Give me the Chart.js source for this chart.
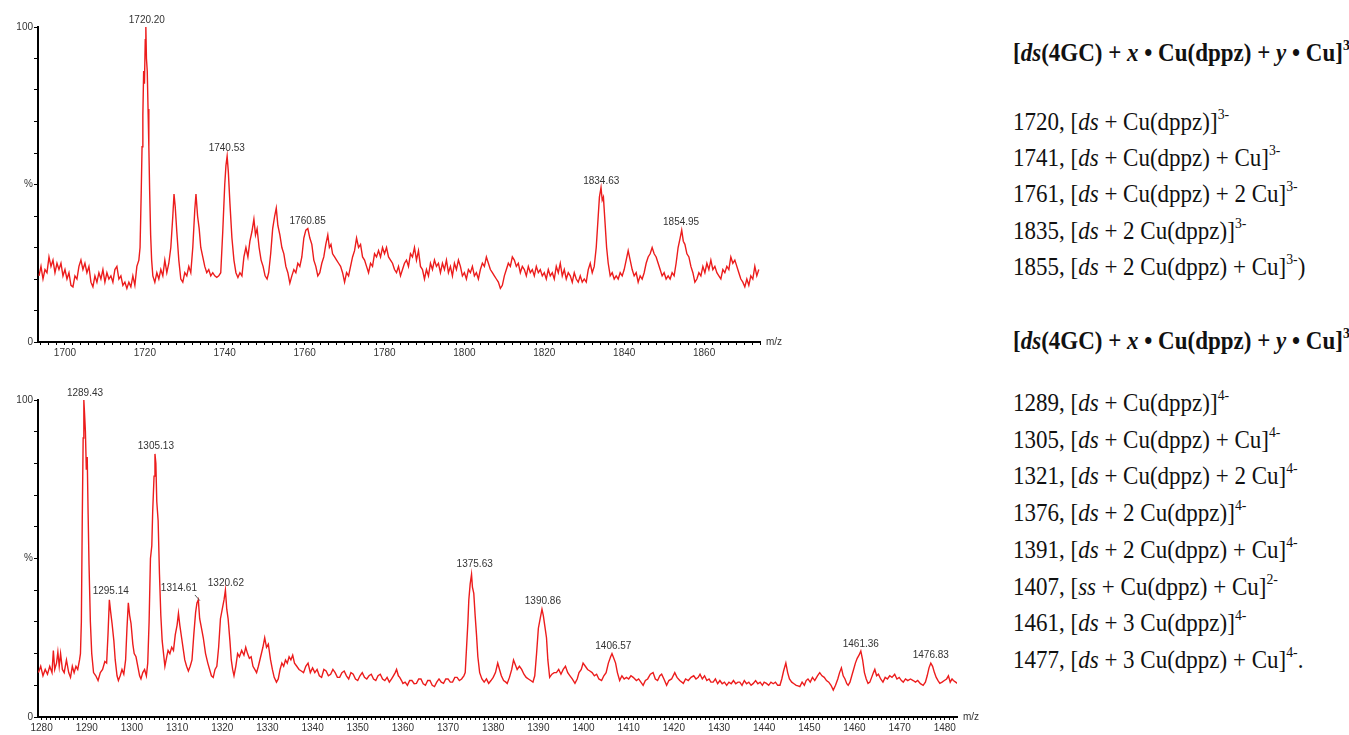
<!DOCTYPE html>
<html>
<head>
<meta charset="utf-8">
<script src="https://cdn.jsdelivr.net/npm/chart.js@4.4.1/dist/chart.umd.min.js"></script>
<style>
html, body { margin: 0; padding: 0; background: #fff; }
body { width: 1349px; height: 735px; overflow: hidden; position: relative; }
canvas { position: absolute; left: 0; }
#topo { top: 0; }
#baixo { top: 360px; }
.linha {
    position: absolute; left: 1013px;
    font-family: 'Liberation Serif', 'Times New Roman', serif;
    font-size: 23px; line-height: 26px; white-space: nowrap; color: #111;
    transform: scaleY(1.08); transform-origin: 0 20px;
}
.linha sup { font-size: 0.6em; line-height: 0; vertical-align: 0.75em; }
.titulo { font-weight: bold; }
</style>
</head>
<body>
<canvas id="topo" width="800" height="360"></canvas>
<canvas id="baixo" width="1000" height="375"></canvas>

<div class="linha titulo" style="top:41px">[<i>ds</i>(4GC) + <i>x</i> • Cu(dppz) + <i>y</i> • Cu]<sup>3-</sup></div>
<div class="linha" style="top:110px">1720, [<i>ds</i> + Cu(dppz)]<sup>3-</sup></div>
<div class="linha" style="top:146px">1741, [<i>ds</i> + Cu(dppz) + Cu]<sup>3-</sup></div>
<div class="linha" style="top:182px">1761, [<i>ds</i> + Cu(dppz) + 2 Cu]<sup>3-</sup></div>
<div class="linha" style="top:219px">1835, [<i>ds</i> + 2 Cu(dppz)]<sup>3-</sup></div>
<div class="linha" style="top:255px">1855, [<i>ds</i> + 2 Cu(dppz) + Cu]<sup>3-</sup>)</div>
<div class="linha titulo" style="top:329px">[<i>ds</i>(4GC) + <i>x</i> • Cu(dppz) + <i>y</i> • Cu]<sup>3-</sup></div>
<div class="linha" style="top:391px">1289, [<i>ds</i> + Cu(dppz)]<sup>4-</sup></div>
<div class="linha" style="top:428px">1305, [<i>ds</i> + Cu(dppz) + Cu]<sup>4-</sup></div>
<div class="linha" style="top:464px">1321, [<i>ds</i> + Cu(dppz) + 2 Cu]<sup>4-</sup></div>
<div class="linha" style="top:501px">1376, [<i>ds</i> + 2 Cu(dppz)]<sup>4-</sup></div>
<div class="linha" style="top:538px">1391, [<i>ds</i> + 2 Cu(dppz) + Cu]<sup>4-</sup></div>
<div class="linha" style="top:575px">1407, [<i>ss</i> + Cu(dppz) + Cu]<sup>2-</sup></div>
<div class="linha" style="top:611px">1461, [<i>ds</i> + 3 Cu(dppz)]<sup>4-</sup></div>
<div class="linha" style="top:648px">1477, [<i>ds</i> + 3 Cu(dppz) + Cu]<sup>4-</sup>.</div>

<script>
// espectro de cima, [m/z, %]
const topSpectrum = [
    [1693.5, 21], [1694, 24], [1694.5, 20], [1695, 23], [1695.5, 22], [1696, 27], [1696.5, 24], [1697, 26],
    [1697.5, 22], [1698, 25], [1698.5, 23], [1699, 25], [1699.5, 21], [1700, 23], [1700.5, 20], [1701, 22],
    [1701.5, 18], [1702, 17.5], [1702.5, 21], [1703, 20], [1703.5, 24], [1704, 26], [1704.5, 23], [1705, 25],
    [1705.5, 22], [1706, 24], [1706.5, 19], [1707, 17.5], [1707.5, 21], [1708, 19], [1708.5, 22], [1709, 20],
    [1709.5, 23], [1710, 19], [1710.5, 22], [1711, 20], [1711.5, 21], [1712, 19], [1712.5, 23], [1713, 24],
    [1713.5, 20], [1714, 21], [1714.5, 18], [1715, 19], [1715.5, 17], [1716, 19], [1716.5, 17.5], [1717, 21],
    [1717.5, 18], [1718, 24], [1718.5, 26], [1718.8, 30], [1719.1, 48], [1719.3, 62], [1719.5, 72], [1719.7, 86],
    [1719.9, 82], [1720.1, 96], [1720.25, 100], [1720.4, 90], [1720.6, 86], [1720.8, 74], [1721, 62], [1721.2, 48],
    [1721.45, 34], [1721.7, 26], [1722, 21],
    [1722.5, 19], [1723, 22], [1723.5, 20], [1724, 23], [1724.5, 21], [1725, 26], [1725.5, 22], [1726, 25],
    [1726.5, 30], [1727, 40], [1727.3, 47], [1727.6, 43], [1728, 35], [1728.5, 26], [1729, 20], [1729.5, 19],
    [1730, 22], [1730.5, 21], [1731, 24], [1731.5, 22], [1732, 30], [1732.5, 42], [1732.8, 47], [1733.2, 40],
    [1733.6, 36], [1734, 30], [1734.5, 27], [1735, 24], [1735.5, 22], [1736, 23], [1736.5, 21], [1737, 22],
    [1737.5, 21], [1738, 20.5], [1738.5, 21], [1739, 22], [1739.5, 35], [1740, 50], [1740.3, 56], [1740.6, 59],
    [1740.9, 54], [1741.3, 44], [1741.8, 33], [1742.3, 26], [1742.8, 22], [1743.3, 20.5], [1743.8, 22], [1744.3, 21],
    [1744.8, 27], [1745.3, 30], [1745.8, 27], [1746.3, 32], [1746.8, 35], [1747.3, 39], [1747.7, 34], [1748.1, 36],
    [1748.6, 30], [1749.1, 26], [1749.6, 24], [1750.1, 21], [1750.6, 20], [1751, 22], [1751.5, 28], [1752, 36],
    [1752.5, 40], [1752.9, 42.5], [1753.3, 37], [1753.8, 34], [1754.3, 30], [1754.8, 28], [1755.3, 24], [1755.8, 22],
    [1756.3, 18.7], [1756.8, 21], [1757.3, 23], [1757.8, 22], [1758.3, 25], [1758.8, 24], [1759.3, 27], [1759.8, 33],
    [1760.3, 35.5], [1760.8, 36], [1761.3, 33], [1761.8, 31], [1762.3, 26], [1762.8, 24], [1763.3, 21], [1763.8, 22],
    [1764.3, 25], [1764.8, 27], [1765.3, 31], [1765.8, 34], [1766.2, 30], [1766.6, 31], [1767, 28], [1767.5, 27],
    [1768, 26], [1768.5, 25], [1769, 24], [1769.5, 22], [1770, 19], [1770.5, 22], [1771, 21], [1771.5, 24],
    [1772, 27], [1772.5, 29], [1773, 33], [1773.5, 30], [1774, 31], [1774.5, 27], [1775, 26], [1775.5, 24],
    [1776, 22], [1776.5, 25], [1777, 24], [1777.5, 28], [1778, 27], [1778.5, 29], [1779, 27], [1779.5, 30],
    [1780, 28], [1780.5, 30], [1781, 27], [1781.5, 26], [1782, 25], [1782.5, 23], [1783, 22], [1783.5, 24],
    [1784, 21], [1784.5, 23], [1785, 25], [1785.5, 26], [1786, 24], [1786.5, 28], [1787, 27], [1787.5, 30],
    [1788, 26], [1788.5, 29], [1789, 24], [1789.5, 23], [1790, 20], [1790.5, 23], [1791, 21], [1791.5, 25],
    [1792, 23], [1792.5, 26], [1793, 24], [1793.5, 25], [1794, 22], [1794.5, 25], [1795, 23], [1795.5, 26],
    [1796, 22], [1796.5, 24], [1797, 21], [1797.5, 25], [1798, 23], [1798.5, 26], [1799, 24], [1799.5, 21],
    [1800, 22], [1800.5, 20], [1801, 23], [1801.5, 22], [1802, 24], [1802.5, 21], [1803, 22], [1803.5, 20],
    [1804, 23], [1804.5, 25], [1805, 24], [1805.5, 27], [1806, 25], [1806.5, 23], [1807, 22], [1807.5, 21],
    [1808, 20], [1808.5, 19], [1809, 17], [1809.5, 18], [1810, 21], [1810.5, 23], [1811, 25], [1811.5, 24],
    [1812, 27], [1812.5, 26], [1813, 24], [1813.5, 25], [1814, 22], [1814.5, 24], [1815, 23], [1815.5, 21],
    [1816, 24], [1816.5, 22], [1817, 23], [1817.5, 21], [1818, 24], [1818.5, 22], [1819, 23], [1819.5, 21],
    [1820, 22], [1820.5, 20], [1821, 23], [1821.5, 21], [1822, 22], [1822.5, 20], [1823, 24], [1823.5, 22],
    [1824, 25], [1824.5, 21], [1825, 23], [1825.5, 20], [1826, 22], [1826.5, 21], [1827, 19], [1827.5, 22],
    [1828, 20], [1828.5, 19], [1829, 21], [1829.5, 19], [1830, 20], [1830.5, 19], [1831, 23], [1831.5, 25],
    [1832, 22], [1832.5, 24], [1833, 30], [1833.5, 40], [1833.8, 46], [1834.2, 49], [1834.5, 45], [1834.8, 46],
    [1835.2, 38], [1835.6, 30], [1836, 25], [1836.5, 21], [1837, 22], [1837.5, 20], [1838, 21], [1838.5, 20],
    [1839, 22], [1839.5, 21], [1840, 23], [1840.5, 26], [1841, 29], [1841.5, 26], [1842, 23], [1842.5, 21],
    [1843, 22], [1843.5, 19], [1844, 21], [1844.5, 20], [1845, 22], [1845.5, 25], [1846, 27], [1846.5, 28],
    [1847, 30], [1847.5, 28], [1848, 27], [1848.5, 25], [1849, 23], [1849.5, 21], [1850, 22], [1850.5, 20],
    [1851, 21], [1851.5, 20], [1852, 22], [1852.5, 21], [1853, 25], [1853.5, 30], [1854, 33], [1854.4, 35.5],
    [1854.8, 32], [1855.2, 31], [1855.7, 28], [1856.2, 27], [1856.7, 24], [1857.2, 22], [1857.7, 19], [1858.2, 20],
    [1858.7, 22], [1859.2, 21], [1859.7, 24], [1860.2, 22], [1860.7, 25], [1861.2, 23], [1861.7, 26], [1862.2, 23],
    [1862.7, 24], [1863.2, 22], [1863.7, 21], [1864.2, 20], [1864.7, 23], [1865.2, 22], [1865.7, 24], [1866.2, 23],
    [1866.7, 27], [1867.2, 25], [1867.7, 26], [1868.2, 24], [1868.7, 22], [1869.2, 20], [1869.7, 19], [1870.2, 17.5],
    [1870.7, 20], [1871.2, 18], [1871.7, 21], [1872.2, 20], [1872.7, 24], [1873.2, 21], [1873.7, 23]
];

// espectro de baixo, [m/z, %]
const bottomSpectrum = [
    [1279.3, 14], [1279.8, 16], [1280.3, 13], [1280.8, 15], [1281.3, 13.5], [1281.8, 16], [1282.3, 14], [1282.6, 21],
    [1282.9, 15], [1283.3, 17], [1283.6, 20.5], [1283.9, 16], [1284.2, 20], [1284.6, 15], [1285, 14], [1285.5, 18],
    [1286, 14], [1286.4, 12.5], [1286.8, 16], [1287.2, 14], [1287.6, 16], [1288, 15], [1288.4, 18], [1288.6, 20],
    [1288.8, 30], [1289, 62], [1289.2, 88], [1289.35, 100], [1289.5, 96], [1289.7, 90], [1289.9, 78], [1290.1, 82],
    [1290.3, 64], [1290.5, 48], [1290.8, 30], [1291.1, 20], [1291.5, 14], [1292, 13], [1292.5, 11.5], [1293, 14], [1293.5, 15],
    [1294, 17.5], [1294.4, 17], [1294.7, 26], [1295, 37], [1295.3, 33], [1295.6, 29.5], [1296, 24], [1296.3, 18],
    [1296.7, 13], [1297, 11.5], [1297.4, 13], [1297.8, 15], [1298.2, 13.5], [1298.6, 18], [1298.9, 28], [1299.2, 36],
    [1299.5, 32], [1299.8, 29.5], [1300.2, 23], [1300.5, 20], [1300.9, 19], [1301.3, 16], [1301.7, 13], [1302, 12],
    [1302.4, 14], [1302.8, 15], [1303.2, 13], [1303.5, 17], [1303.8, 30], [1304.1, 50], [1304.4, 54], [1304.6, 65],
    [1304.9, 76], [1305.1, 83], [1305.3, 80], [1305.5, 68], [1305.8, 62], [1306.1, 45], [1306.4, 32], [1306.7, 24],
    [1307, 20], [1307.3, 16], [1307.7, 19], [1308, 21], [1308.4, 20], [1308.8, 22], [1309.2, 21], [1309.6, 26],
    [1310, 29], [1310.3, 32.7], [1310.6, 29], [1311, 25], [1311.4, 21], [1311.7, 18], [1312.1, 16], [1312.5, 14.5],
    [1312.9, 16], [1313.3, 18], [1313.7, 26], [1314.1, 33], [1314.4, 36], [1314.7, 37], [1315, 31], [1315.4, 28],
    [1315.8, 25], [1316.3, 20], [1316.8, 17], [1317.2, 15], [1317.6, 13], [1318, 12.5], [1318.4, 15], [1318.8, 16],
    [1319.2, 22], [1319.6, 31], [1320, 34], [1320.4, 37], [1320.7, 40], [1321, 34], [1321.3, 31], [1321.7, 24],
    [1322, 18], [1322.3, 15], [1322.6, 13], [1323, 16], [1323.4, 20], [1323.8, 19], [1324.3, 21], [1324.8, 19.5],
    [1325.2, 22], [1325.6, 20], [1326, 18.5], [1326.4, 19], [1326.8, 16], [1327.2, 15], [1327.6, 14], [1328, 16],
    [1328.5, 19], [1329, 22], [1329.4, 25], [1329.8, 22], [1330.2, 23], [1330.7, 18], [1331.1, 15], [1331.5, 12.5],
    [1332, 11], [1332.4, 12], [1332.8, 15], [1333.2, 17], [1333.6, 16], [1334, 18], [1334.4, 17], [1334.8, 19],
    [1335.2, 18], [1335.6, 19.5], [1336, 17], [1336.5, 16], [1337, 15], [1337.5, 14.5], [1338, 14], [1338.5, 16],
    [1339, 17], [1339.5, 14], [1340, 15.5], [1340.5, 14], [1341, 15], [1341.5, 13], [1342, 12.5], [1342.5, 15],
    [1343, 14.5], [1343.5, 13], [1344, 13.5], [1344.5, 15], [1345, 14], [1345.5, 12.5], [1346, 12.5], [1346.5, 14],
    [1347, 14.5], [1347.5, 13], [1348, 12], [1348.5, 14], [1349, 13.5], [1349.5, 12], [1350, 11.5], [1350.5, 13],
    [1351, 14], [1351.5, 12.5], [1352, 12], [1352.5, 13], [1353, 13.5], [1353.5, 12], [1354, 11.5], [1354.5, 13],
    [1355, 13.5], [1355.5, 12], [1356, 11.5], [1356.5, 12.5], [1357, 11], [1357.5, 12], [1357.9, 13], [1358.3, 14],
    [1358.6, 15], [1359, 13], [1359.3, 12.5], [1359.7, 11.5], [1360, 10.6], [1360.5, 11], [1361, 10], [1361.5, 11.5],
    [1362, 11.5], [1362.5, 10.5], [1363, 10.6], [1363.5, 12], [1364, 12], [1364.5, 10.5], [1365, 10], [1365.5, 11.5],
    [1366, 11.5], [1366.5, 10], [1367, 9.6], [1367.5, 11], [1368, 12], [1368.5, 11], [1369, 10.6], [1369.5, 12],
    [1370, 12], [1370.5, 11], [1371, 11], [1371.5, 12.5], [1372, 12.5], [1372.5, 11.5], [1373, 12], [1373.5, 13],
    [1373.8, 14], [1374.1, 22], [1374.4, 30], [1374.6, 37], [1374.9, 42], [1375.2, 45], [1375.4, 41], [1375.7, 39],
    [1376, 32], [1376.3, 26], [1376.6, 19], [1377, 14], [1377.5, 12], [1378, 11], [1378.5, 12], [1379, 10.6],
    [1379.5, 11.5], [1380, 12.5], [1380.5, 14], [1381, 17], [1381.4, 15], [1381.8, 13], [1382.3, 11.5], [1382.8, 11],
    [1383.1, 10.6], [1383.6, 12.5], [1384.1, 15], [1384.5, 18], [1384.9, 16.5], [1385.3, 15], [1385.8, 16], [1386.3, 15],
    [1386.8, 13.5], [1387.3, 12.5], [1387.8, 12], [1388.3, 11.5], [1388.8, 11], [1389.2, 13], [1389.6, 20], [1390, 28],
    [1390.4, 31], [1390.8, 34], [1391.1, 32], [1391.4, 29], [1391.8, 25], [1392.1, 18], [1392.5, 12.5], [1393, 13.5],
    [1393.5, 14], [1394, 14], [1394.5, 15], [1395, 13.5], [1395.5, 15], [1396, 16], [1396.5, 14], [1397, 13],
    [1397.5, 12], [1398.1, 10.6], [1398.6, 12], [1399, 14], [1399.5, 15], [1399.9, 17], [1400.4, 16], [1400.9, 15],
    [1401.4, 14.5], [1401.9, 14], [1402.4, 13], [1402.9, 13.5], [1403.4, 12], [1404, 11.5], [1404.5, 13], [1405, 14],
    [1405.5, 17], [1406, 19], [1406.3, 20], [1406.7, 18.5], [1407.1, 17], [1407.5, 14], [1408, 11.5], [1408.5, 13],
    [1409, 12], [1409.5, 12.5], [1410, 12], [1410.5, 13], [1411, 12.5], [1411.7, 11.5], [1412.2, 12], [1412.7, 11],
    [1413.2, 10], [1413.7, 11.5], [1414.2, 12], [1414.8, 13.5], [1415.4, 14], [1415.9, 12], [1416.4, 11.5], [1416.9, 13],
    [1417.3, 13.5], [1417.8, 12], [1418.4, 10], [1418.9, 11.5], [1419.5, 12], [1420.2, 14], [1420.7, 12.5], [1421.3, 11.5],
    [1422.1, 10.6], [1422.6, 12], [1423.2, 11.5], [1423.8, 12.5], [1424.4, 13], [1424.9, 12], [1425.4, 12.5], [1425.8, 13.5],
    [1426.3, 12], [1426.8, 13], [1427.3, 11.5], [1427.8, 12], [1428.2, 11], [1428.7, 11], [1429.2, 12], [1429.7, 10.5],
    [1430.2, 11.5], [1430.7, 10.5], [1431.2, 11], [1431.7, 10], [1432.2, 11], [1432.7, 10.5], [1433.2, 11.5], [1433.7, 10.5],
    [1434.2, 11], [1434.6, 11], [1435.1, 10], [1435.6, 11.5], [1436.1, 10.5], [1436.6, 11], [1437.1, 10], [1437.6, 10.6],
    [1438.1, 11.5], [1438.6, 10.5], [1439.1, 11], [1439.6, 10], [1440, 11], [1440.5, 10.6], [1441, 10], [1441.5, 11],
    [1442, 10.5], [1442.5, 11], [1443, 10], [1443.5, 10], [1443.9, 12], [1444.3, 14.5], [1444.8, 17], [1445.2, 14],
    [1445.6, 12], [1446.1, 11], [1446.6, 10.5], [1447.1, 10], [1447.5, 9.8], [1447.9, 9.6], [1448.4, 11], [1448.9, 10],
    [1449.3, 11.5], [1449.7, 12], [1450.2, 11], [1450.7, 12.5], [1451.2, 11.5], [1451.8, 13], [1452.3, 14], [1452.8, 13],
    [1453.3, 12.5], [1453.8, 11.5], [1454.3, 11], [1454.8, 10], [1455.3, 8.5], [1455.8, 10], [1456.3, 12], [1456.7, 14],
    [1457.1, 15.5], [1457.5, 13], [1457.9, 12], [1458.3, 10.5], [1458.6, 10], [1459, 11], [1459.4, 13], [1459.8, 15],
    [1460.2, 17], [1460.6, 18.5], [1461, 19.5], [1461.4, 20.8], [1461.8, 18], [1462.2, 14], [1462.6, 12], [1463, 10.6],
    [1463.4, 11], [1463.8, 12.5], [1464.2, 14], [1464.5, 15], [1464.9, 13], [1465.3, 13.5], [1465.8, 12], [1466.3, 11],
    [1466.8, 12.5], [1467.3, 12], [1467.8, 13], [1468.3, 12.5], [1468.9, 13.5], [1469.4, 12], [1469.9, 12.5], [1470.4, 11.5],
    [1470.8, 11], [1471.3, 12], [1471.8, 11.5], [1472.4, 12], [1473, 11.5], [1473.5, 11], [1474, 11.5], [1474.6, 10.5],
    [1475.2, 10], [1475.7, 11], [1476.1, 13], [1476.5, 15.5], [1476.9, 17], [1477.3, 16], [1477.7, 14], [1478.1, 12.5],
    [1478.5, 11.5], [1478.9, 10.6], [1479.4, 11], [1479.9, 11.5], [1480.4, 12], [1480.8, 13], [1481.2, 11], [1481.6, 12],
    [1481.9, 11.5], [1482.4, 11], [1482.8, 10.6]
];

// rotulos dos picos: texto, m/z e % do centro do texto
const topPeakText = ['1720.20', '1740.53', '1760.85', '1834.63', '1854.95'];
const topPeakMz = [1720.5, 1740.5, 1760.75, 1834.25, 1854.25];
const topPeakInt = [102.2, 61.6, 38.4, 51.1, 38.1];

const bottomPeakText = ['1289.43', '1295.14', '1305.13', '1314.61', '1320.62', '1375.63', '1390.86', '1406.57', '1461.36', '1476.83'];
const bottomPeakMz = [1289.6, 1295.3, 1305.3, 1310.4, 1320.8, 1375.9, 1391, 1406.6, 1461.4, 1476.9];
const bottomPeakInt = [102.2, 39.7, 85.5, 40.7, 42.3, 48.3, 36.6, 22.4, 23, 19.6];
const bottomLeader = [[1313.95, 38.5], [1315.05, 36.7]];

// eixos
const topRange = [1693.25, 1874];
const bottomRange = [1279.2, 1482.7];
const yTickText = { 0: '0', 50: '%', 100: '100' };

Chart.defaults.font.family = 'Arial, "Liberation Sans", sans-serif';
Chart.defaults.font.size = 10;
Chart.defaults.color = '#333';

const rotulosPicos = {
    id: 'rotulosPicos',
    afterDatasetsDraw(chart, args, opts) {
        const { ctx, scales: { x, y }, chartArea } = chart;
        ctx.save();
        ctx.font = '10px Arial, "Liberation Sans", sans-serif';
        ctx.fillStyle = '#333';
        ctx.textAlign = 'center';
        ctx.textBaseline = 'middle';
        opts.texts.forEach((t, i) => {
            ctx.fillText(t, x.getPixelForValue(opts.mz[i]), y.getPixelForValue(opts.ints[i]));
        });
        if (opts.leader) {
            ctx.strokeStyle = '#555';
            ctx.lineWidth = 1;
            ctx.beginPath();
            ctx.moveTo(x.getPixelForValue(opts.leader[0][0]), y.getPixelForValue(opts.leader[0][1]));
            ctx.lineTo(x.getPixelForValue(opts.leader[1][0]), y.getPixelForValue(opts.leader[1][1]));
            ctx.stroke();
        }
        ctx.textAlign = 'left';
        ctx.fillText('m/z', chartArea.right + 6, chartArea.bottom);
        ctx.restore();
    }
};

function criarGrafico(id, spectrum, range, minorStep, labelStep, peaks, padTop, padRight) {
    return new Chart(document.getElementById(id), {
        type: 'line',
        data: {
            datasets: [{
                data: spectrum.map(p => ({ x: p[0], y: p[1] })),
                borderColor: '#ec1c1c',
                borderWidth: 1.4,
                pointRadius: 0,
                tension: 0
            }]
        },
        plugins: [rotulosPicos],
        options: {
            responsive: false,
            animation: false,
            devicePixelRatio: 1,
            layout: { padding: { top: padTop, right: padRight, left: 0, bottom: 0 } },
            plugins: {
                legend: { display: false },
                tooltip: { enabled: false },
                rotulosPicos: peaks
            },
            scales: {
                x: {
                    type: 'linear',
                    min: range[0],
                    max: range[1],
                    afterFit: s => { s.height = 18; },
                    border: { color: '#000', width: 2 },
                    grid: { drawOnChartArea: false, tickLength: 3, tickColor: '#000' },
                    ticks: {
                        stepSize: minorStep,
                        includeBounds: false,
                        autoSkip: false,
                        maxRotation: 0,
                        padding: 2,
                        callback: v => (Math.abs(v / labelStep - Math.round(v / labelStep)) < 1e-6 ? String(Math.round(v)) : '')
                    }
                },
                y: {
                    min: 0,
                    max: 100,
                    afterFit: s => { s.width = 38; },
                    border: { color: '#000', width: 2 },
                    grid: { drawOnChartArea: false, tickLength: 4, tickColor: '#000' },
                    ticks: {
                        stepSize: 10,
                        padding: 1,
                        callback: v => (yTickText[v] !== undefined ? yTickText[v] : '')
                    }
                }
            }
        }
    });
}

criarGrafico('topo', topSpectrum, topRange, 2, 20,
    { texts: topPeakText, mz: topPeakMz, ints: topPeakInt }, 27, 40);
criarGrafico('baixo', bottomSpectrum, bottomRange, 1, 10,
    { texts: bottomPeakText, mz: bottomPeakMz, ints: bottomPeakInt, leader: bottomLeader }, 40, 43);
</script>
</body>
</html>
